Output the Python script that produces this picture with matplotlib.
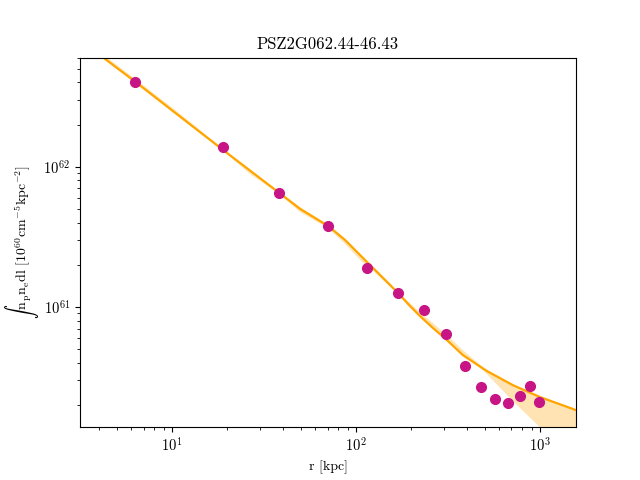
import matplotlib
matplotlib.use("Agg")
import matplotlib.pyplot as plt

plt.rcParams["font.family"] = "serif"
plt.rcParams["font.serif"] = ["cmr10", "DejaVu Serif"]
plt.rcParams["mathtext.fontset"] = "cm"
plt.rcParams["axes.formatter.use_mathtext"] = True
plt.rcParams["axes.unicode_minus"] = False

title = "PSZ2G062.44-46.43"

# measured profile points
r_data = [6.3, 18.9, 38.1, 70.5, 114.8, 169, 234, 308, 391, 478, 569, 669, 778, 883, 988]
y_data = [4.05e62, 1.39e62, 6.52e61, 3.79e61, 1.90e61, 1.26e61, 9.5e60, 6.4e60,
          3.79e60, 2.68e60, 2.20e60, 2.06e60, 2.31e60, 2.73e60, 2.10e60]

# best-fit model
r_model = [4.22, 6.29, 11.05, 18.9, 38.2, 49.6, 70.4, 87.1, 105.1, 123.7, 147.4,
           169, 196.6, 222.7, 262, 312, 381, 515, 606, 713, 1000, 1570]
y_model = [6.01e62, 4.05e62, 2.28e62, 1.32e62, 6.52e61, 5.01e61, 3.79e61, 3.01e61,
           2.35e61, 1.90e61, 1.51e61, 1.26e61, 1.016e61, 8.62e60, 7.08e60, 5.81e60,
           4.54e60, 3.49e60, 3.11e60, 2.77e60, 2.28e60, 1.84e60]

# model uncertainty band
r_band = [4.22, 6.29, 11.05, 18.9, 26.5, 38.2, 49.6, 70.4, 87.1, 105.1, 123.7,
          147.4, 169, 196.6, 222.7, 262, 312, 381, 490, 713, 1000, 1570]
band_hi = [6.31e62, 4.25e62, 2.39e62, 1.345e62, 9.36e61, 6.63e61, 5.18e61, 3.85e61,
           3.06e61, 2.39e61, 1.93e61, 1.53e61, 1.28e61, 1.068e61, 9.21e60, 7.69e60,
           6.31e60, 4.93e60, 3.73e60, 2.82e60, 2.31e60, 1.87e60]
band_lo = [6.01e62, 3.98e62, 2.24e62, 1.30e62, 8.91e61, 6.42e61, 4.77e61, 3.67e61,
           2.82e61, 2.17e61, 1.81e61, 1.46e61, 1.24e61, 1.0e61, 8.48e60, 7.08e60,
           5.81e60, 4.54e60, 3.55e60, 2.13e60, 1.39e60, 6.85e59]

fig, ax = plt.subplots(figsize=(6.4, 4.8), dpi=100)
ax.fill_between(r_band, band_lo, band_hi, color="orange", alpha=0.3, lw=0)
ax.plot(r_model, y_model, color="orange", lw=1.6)
ax.plot(r_data, y_data, "o", color="mediumvioletred", ms=7)

ax.set_xscale("log")
ax.set_yscale("log")
ax.set_xlim(3.16, 1570)
ax.set_ylim(1.39e60, 6.0e62)
ax.tick_params(labelsize=10.5)
ax.set_title(title)
ax.set_xlabel("r [kpc]")
ax.set_ylabel(r"$\int\,\mathrm{n_p n_e dl}\ [10^{60}\mathrm{cm^{-5}kpc^{-2}}]$")
ax.yaxis.set_label_coords(-0.078, 0.5)

fig.savefig("out.png", dpi=100)
